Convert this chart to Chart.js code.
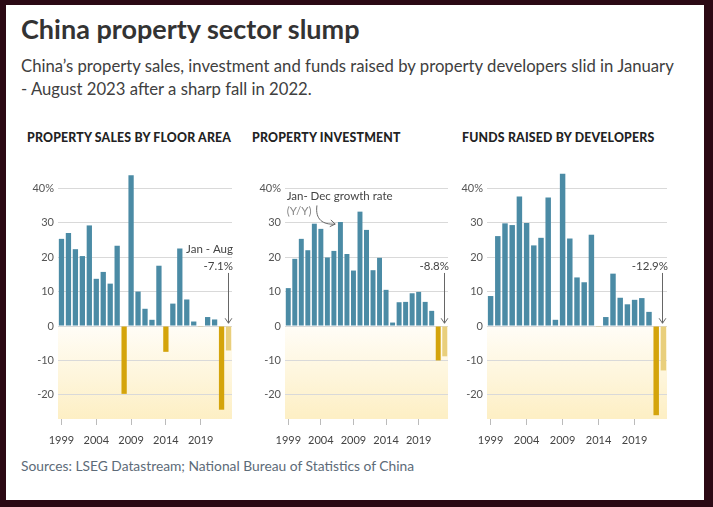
<!DOCTYPE html>
<html>
<head>
<meta charset="utf-8">
<script src="https://cdn.jsdelivr.net/npm/chart.js@4.4.0/dist/chart.umd.min.js"></script>
<style>
  html, body { margin:0; padding:0; }
  body { width:713px; height:507px; background:#2b0914; position:relative; overflow:hidden; font-family:Lato, sans-serif; }
  #paper { position:absolute; left:6px; top:5px; width:698px; height:495px; background:#fff; }
  .txt { position:absolute; white-space:nowrap; }
  #title { left:21px; top:12px; font-size:27px; font-weight:bold; color:#333; }
  #sub { left:21px; top:55px; font-size:16.7px; line-height:23px; color:#404040; }
  .ptitle { top:130px; font-size:12.3px; font-weight:900; color:#222; letter-spacing:0.2px; }
  #src { left:21px; top:457px; font-size:13.8px; color:#5d6b78; }
  canvas { position:absolute; }
</style>
</head>
<body>
<div id="paper"></div>
<div class="txt" id="title">China property sector slump</div>
<div class="txt" id="sub">China’s property sales, investment and funds raised by property developers slid in January<br>- August 2023 after a sharp fall in 2022.</div>
<div class="txt ptitle" style="left:27px">PROPERTY SALES BY FLOOR AREA</div>
<div class="txt ptitle" style="left:252px">PROPERTY INVESTMENT</div>
<div class="txt ptitle" style="left:462px">FUNDS RAISED BY DEVELOPERS</div>
<div class="txt" id="src">Sources: LSEG Datastream; National Bureau of Statistics of China</div>

<canvas id="c1" style="left:20px;top:160px;width:218px;height:289px"></canvas>
<canvas id="c2" style="left:247px;top:160px;width:207px;height:289px"></canvas>
<canvas id="c3" style="left:449px;top:160px;width:224px;height:289px"></canvas>

<script>
// years 1999 .. 2023 (2023 = Jan-Aug)
var years = [];
for (var y = 1999; y <= 2023; y++) years.push(String(y));

var salesGrowth = [25.3, 27.0, 22.3, 20.3, 29.2, 13.7, 15.7, 12.3, 23.3, -19.7,
                   43.8, 10.0, 5.0, 1.8, 17.5, -7.5, 6.5, 22.5, 7.7, 1.3,
                   -0.1, 2.6, 1.9, -24.3, -7.1];
var investGrowth = [11.0, 19.5, 25.3, 22.0, 29.7, 28.2, 19.9, 21.8, 30.2, 20.9,
                    16.1, 33.2, 27.9, 16.2, 19.8, 10.5, 1.0, 6.9, 7.0, 9.5,
                    9.9, 7.0, 4.4, -10.0, -8.8];
var fundsGrowth = [8.7, 26.1, 29.8, 29.3, 37.6, 29.9, 23.4, 25.6, 37.3, 1.8,
                   44.2, 25.4, 14.1, 12.7, 26.5, -0.1, 2.6, 15.2, 8.2, 6.3,
                   7.6, 8.1, 4.1, -25.9, -12.9];
var yTicks = [-20, -10, 0, 10, 20, 30, 40];
var xTickYears = ['1999', '2004', '2009', '2014', '2019'];

Chart.defaults.font.family = 'Lato';
Chart.defaults.font.size = 11;
Chart.defaults.color = '#555';

function barColors(vals) {
  return vals.map(function (v, i) {
    if (i == vals.length - 1) return '#e9cf7c';
    return v < 0 ? '#d4a40b' : '#4b8ba5';
  });
}

// yellow band below zero
var negBand = {
  id: 'negBand',
  beforeDraw: function (chart) {
    var a = chart.chartArea, ctx = chart.ctx;
    var y0 = chart.scales.y.getPixelForValue(0);
    var g = ctx.createLinearGradient(0, y0, 0, a.bottom);
    g.addColorStop(0, '#fffdf7');
    g.addColorStop(1, '#fdefc4');
    ctx.save();
    ctx.fillStyle = g;
    ctx.fillRect(a.left, y0, a.right - a.left, a.bottom - y0);
    ctx.restore();
  }
};

function arrowHead(ctx, x, y, ang) {
  ctx.beginPath();
  ctx.moveTo(x - 6 * Math.cos(ang - 0.6), y - 6 * Math.sin(ang - 0.6));
  ctx.lineTo(x, y);
  ctx.lineTo(x - 6 * Math.cos(ang + 0.6), y - 6 * Math.sin(ang + 0.6));
  ctx.stroke();
}

// callouts: labels right of the last bar, arrow down to zero line
var callouts = {
  id: 'callouts',
  afterDatasetsDraw: function (chart, args, opts) {
    var ctx = chart.ctx, xs = chart.scales.x, ys = chart.scales.y, a = chart.chartArea;
    ctx.save();
    ctx.font = '11.5px Lato';
    ctx.fillStyle = '#444';
    ctx.textAlign = 'right';
    ctx.textBaseline = 'middle';
    (opts.lines || []).forEach(function (t, i) {
      ctx.fillText(t, a.right + 1, ys.getPixelForValue(17.2) - (opts.lines.length - 1 - i) * 17);
    });
    var x = Math.round(xs.getPixelForValue(24) - 1) + 0.5;
    ctx.strokeStyle = '#666';
    ctx.lineWidth = 1;
    ctx.beginPath();
    ctx.moveTo(x, ys.getPixelForValue(15.4));
    ctx.lineTo(x, ys.getPixelForValue(0.8));
    ctx.stroke();
    arrowHead(ctx, x, ys.getPixelForValue(0.8), Math.PI / 2);

    if (opts.note) {
      ctx.textAlign = 'left';
      ctx.fillStyle = '#444';
      ctx.fillText('Jan- Dec growth rate', xs.getPixelForValue(-0.25), ys.getPixelForValue(37.6));
      ctx.fillStyle = '#888';
      ctx.fillText('(Y/Y)', xs.getPixelForValue(-0.25), ys.getPixelForValue(33.4));
      var sx = xs.getPixelForValue(4.4), sy = ys.getPixelForValue(35);
      var ex = xs.getPixelForValue(7.2), ey = ys.getPixelForValue(29.6);
      ctx.beginPath();
      ctx.moveTo(sx, sy);
      ctx.bezierCurveTo(sx - 2, sy + 14, sx + 6, ey + 1, ex, ey);
      ctx.stroke();
      arrowHead(ctx, ex, ey, 0.15);
    }
    ctx.restore();
  }
};

function makeChart(id, vals, calloutOpts) {
  return new Chart(document.getElementById(id), {
    type: 'bar',
    data: {
      labels: years,
      datasets: [{
        data: vals,
        backgroundColor: barColors(vals),
        barPercentage: 0.76,
        categoryPercentage: 1
      }]
    },
    plugins: [negBand, callouts],
    options: {
      responsive: false,
      animation: false,
      events: [],
      layout: { padding: { top: 11, left: 0, right: 6, bottom: 0 } },
      plugins: {
        legend: { display: false },
        tooltip: { enabled: false },
        callouts: calloutOpts
      },
      scales: {
        x: {
          offset: true,
          border: { display: false },
          grid: { offset: false, drawOnChartArea: false, drawTicks: true, tickLength: 6, color: '#bbb' },
          ticks: {
            autoSkip: false, maxRotation: 0, padding: 9, color: '#444',
            callback: function (v) {
              var lab = this.getLabelForValue(v);
              return xTickYears.indexOf(lab) >= 0 ? lab : null;
            }
          },
          afterFit: function (s) { s.height = 30; }
        },
        y: {
          min: -27, max: 45,
          border: { display: false },
          grid: { color: '#d9d9d9', drawTicks: false },
          afterBuildTicks: function (s) { s.ticks = yTicks.map(function (v) { return { value: v }; }); },
          ticks: {
            padding: 4, color: '#555',
            callback: function (v) { return v == 40 ? '40%' : v; }
          },
          afterFit: function (s) { s.width = 38; }
        }
      }
    }
  });
}

function sizeCanvas(id) {
  var c = document.getElementById(id);
  c.width = parseInt(c.style.width);
  c.height = parseInt(c.style.height);
}
['c1', 'c2', 'c3'].forEach(sizeCanvas);

makeChart('c1', salesGrowth, { lines: ['Jan - Aug', '-7.1%'] });
makeChart('c2', investGrowth, { lines: ['-8.8%'], note: true });
makeChart('c3', fundsGrowth, { lines: ['-12.9%'] });
</script>
</body>
</html>
